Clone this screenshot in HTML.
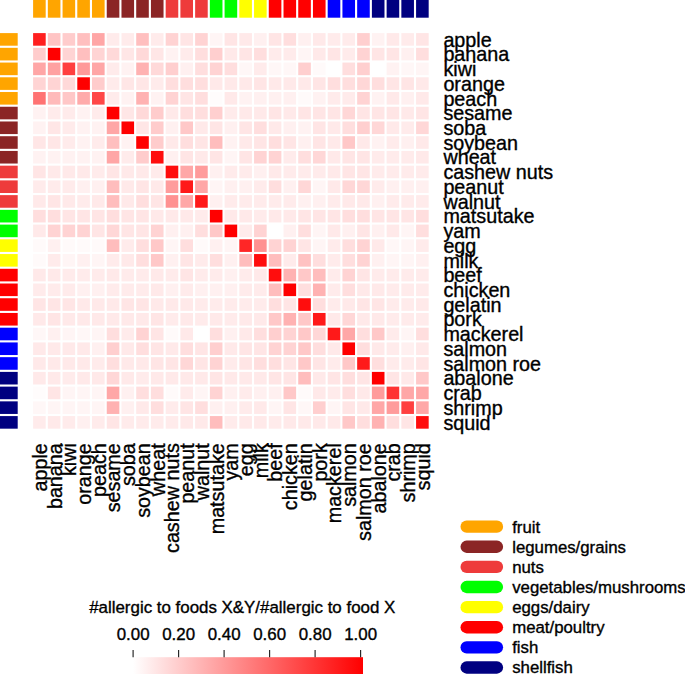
<!DOCTYPE html>
<html><head><meta charset="utf-8"><style>
html,body{margin:0;padding:0;background:#fff;}
#c{position:relative;width:685px;height:674px;overflow:hidden;background:#fff;}
#c svg{position:absolute;left:0;top:0;display:block}
.t text{stroke:#000;stroke-width:0.35px;}
</style></head><body><div id="c">
<svg width="685" height="674" viewBox="0 0 685 674">
<rect x="33.10" y="0" width="12.6" height="17.7" fill="#FFA500"/>
<rect x="0" y="33.10" width="17.7" height="12.6" fill="#FFA500"/>
<rect x="47.83" y="0" width="12.6" height="17.7" fill="#FFA500"/>
<rect x="0" y="47.83" width="17.7" height="12.6" fill="#FFA500"/>
<rect x="62.56" y="0" width="12.6" height="17.7" fill="#FFA500"/>
<rect x="0" y="62.56" width="17.7" height="12.6" fill="#FFA500"/>
<rect x="77.29" y="0" width="12.6" height="17.7" fill="#FFA500"/>
<rect x="0" y="77.29" width="17.7" height="12.6" fill="#FFA500"/>
<rect x="92.02" y="0" width="12.6" height="17.7" fill="#FFA500"/>
<rect x="0" y="92.02" width="17.7" height="12.6" fill="#FFA500"/>
<rect x="106.75" y="0" width="12.6" height="17.7" fill="#8B2525"/>
<rect x="0" y="106.75" width="17.7" height="12.6" fill="#8B2525"/>
<rect x="121.48" y="0" width="12.6" height="17.7" fill="#8B2525"/>
<rect x="0" y="121.48" width="17.7" height="12.6" fill="#8B2525"/>
<rect x="136.21" y="0" width="12.6" height="17.7" fill="#8B2525"/>
<rect x="0" y="136.21" width="17.7" height="12.6" fill="#8B2525"/>
<rect x="150.94" y="0" width="12.6" height="17.7" fill="#8B2525"/>
<rect x="0" y="150.94" width="17.7" height="12.6" fill="#8B2525"/>
<rect x="165.67" y="0" width="12.6" height="17.7" fill="#EE3B3B"/>
<rect x="0" y="165.67" width="17.7" height="12.6" fill="#EE3B3B"/>
<rect x="180.40" y="0" width="12.6" height="17.7" fill="#EE3B3B"/>
<rect x="0" y="180.40" width="17.7" height="12.6" fill="#EE3B3B"/>
<rect x="195.13" y="0" width="12.6" height="17.7" fill="#EE3B3B"/>
<rect x="0" y="195.13" width="17.7" height="12.6" fill="#EE3B3B"/>
<rect x="209.86" y="0" width="12.6" height="17.7" fill="#00FF00"/>
<rect x="0" y="209.86" width="17.7" height="12.6" fill="#00FF00"/>
<rect x="224.59" y="0" width="12.6" height="17.7" fill="#00FF00"/>
<rect x="0" y="224.59" width="17.7" height="12.6" fill="#00FF00"/>
<rect x="239.32" y="0" width="12.6" height="17.7" fill="#FFFF00"/>
<rect x="0" y="239.32" width="17.7" height="12.6" fill="#FFFF00"/>
<rect x="254.05" y="0" width="12.6" height="17.7" fill="#FFFF00"/>
<rect x="0" y="254.05" width="17.7" height="12.6" fill="#FFFF00"/>
<rect x="268.78" y="0" width="12.6" height="17.7" fill="#FF0000"/>
<rect x="0" y="268.78" width="17.7" height="12.6" fill="#FF0000"/>
<rect x="283.51" y="0" width="12.6" height="17.7" fill="#FF0000"/>
<rect x="0" y="283.51" width="17.7" height="12.6" fill="#FF0000"/>
<rect x="298.24" y="0" width="12.6" height="17.7" fill="#FF0000"/>
<rect x="0" y="298.24" width="17.7" height="12.6" fill="#FF0000"/>
<rect x="312.97" y="0" width="12.6" height="17.7" fill="#FF0000"/>
<rect x="0" y="312.97" width="17.7" height="12.6" fill="#FF0000"/>
<rect x="327.70" y="0" width="12.6" height="17.7" fill="#0000FF"/>
<rect x="0" y="327.70" width="17.7" height="12.6" fill="#0000FF"/>
<rect x="342.43" y="0" width="12.6" height="17.7" fill="#0000FF"/>
<rect x="0" y="342.43" width="17.7" height="12.6" fill="#0000FF"/>
<rect x="357.16" y="0" width="12.6" height="17.7" fill="#0000FF"/>
<rect x="0" y="357.16" width="17.7" height="12.6" fill="#0000FF"/>
<rect x="371.89" y="0" width="12.6" height="17.7" fill="#000080"/>
<rect x="0" y="371.89" width="17.7" height="12.6" fill="#000080"/>
<rect x="386.62" y="0" width="12.6" height="17.7" fill="#000080"/>
<rect x="0" y="386.62" width="17.7" height="12.6" fill="#000080"/>
<rect x="401.35" y="0" width="12.6" height="17.7" fill="#000080"/>
<rect x="0" y="401.35" width="17.7" height="12.6" fill="#000080"/>
<rect x="416.08" y="0" width="12.6" height="17.7" fill="#000080"/>
<rect x="0" y="416.08" width="17.7" height="12.6" fill="#000080"/>
<rect x="33.10" y="33.10" width="12.6" height="12.6" fill="#FF1F1F"/>
<rect x="47.83" y="33.10" width="12.6" height="12.6" fill="#FFC4C4"/>
<rect x="62.56" y="33.10" width="12.6" height="12.6" fill="#FFCCCC"/>
<rect x="77.29" y="33.10" width="12.6" height="12.6" fill="#FFBFBF"/>
<rect x="92.02" y="33.10" width="12.6" height="12.6" fill="#FFA6A6"/>
<rect x="106.75" y="33.10" width="12.6" height="12.6" fill="#FFEBEB"/>
<rect x="121.48" y="33.10" width="12.6" height="12.6" fill="#FFEBEB"/>
<rect x="136.21" y="33.10" width="12.6" height="12.6" fill="#FFBFBF"/>
<rect x="150.94" y="33.10" width="12.6" height="12.6" fill="#FFEBEB"/>
<rect x="165.67" y="33.10" width="12.6" height="12.6" fill="#FFD3D3"/>
<rect x="180.40" y="33.10" width="12.6" height="12.6" fill="#FFE5E5"/>
<rect x="195.13" y="33.10" width="12.6" height="12.6" fill="#FFD3D3"/>
<rect x="209.86" y="33.10" width="12.6" height="12.6" fill="#FFF5F5"/>
<rect x="224.59" y="33.10" width="12.6" height="12.6" fill="#FFE5E5"/>
<rect x="239.32" y="33.10" width="12.6" height="12.6" fill="#FFE9E9"/>
<rect x="254.05" y="33.10" width="12.6" height="12.6" fill="#FFF0F0"/>
<rect x="268.78" y="33.10" width="12.6" height="12.6" fill="#FFE5E5"/>
<rect x="283.51" y="33.10" width="12.6" height="12.6" fill="#FFDEDE"/>
<rect x="298.24" y="33.10" width="12.6" height="12.6" fill="#FFF0F0"/>
<rect x="312.97" y="33.10" width="12.6" height="12.6" fill="#FFE9E9"/>
<rect x="327.70" y="33.10" width="12.6" height="12.6" fill="#FFEBEB"/>
<rect x="342.43" y="33.10" width="12.6" height="12.6" fill="#FFEBEB"/>
<rect x="357.16" y="33.10" width="12.6" height="12.6" fill="#FFCFCF"/>
<rect x="371.89" y="33.10" width="12.6" height="12.6" fill="#FFF2F2"/>
<rect x="386.62" y="33.10" width="12.6" height="12.6" fill="#FFE9E9"/>
<rect x="401.35" y="33.10" width="12.6" height="12.6" fill="#FFEBEB"/>
<rect x="416.08" y="33.10" width="12.6" height="12.6" fill="#FFE5E5"/>
<rect x="33.10" y="47.83" width="12.6" height="12.6" fill="#FFCCCC"/>
<rect x="47.83" y="47.83" width="12.6" height="12.6" fill="#FF0000"/>
<rect x="62.56" y="47.83" width="12.6" height="12.6" fill="#FFD4D4"/>
<rect x="77.29" y="47.83" width="12.6" height="12.6" fill="#FFBFBF"/>
<rect x="92.02" y="47.83" width="12.6" height="12.6" fill="#FFD4D4"/>
<rect x="106.75" y="47.83" width="12.6" height="12.6" fill="#FFD9D9"/>
<rect x="121.48" y="47.83" width="12.6" height="12.6" fill="#FFE6E6"/>
<rect x="136.21" y="47.83" width="12.6" height="12.6" fill="#FFD9D9"/>
<rect x="150.94" y="47.83" width="12.6" height="12.6" fill="#FFE6E6"/>
<rect x="165.67" y="47.83" width="12.6" height="12.6" fill="#FFF2F2"/>
<rect x="180.40" y="47.83" width="12.6" height="12.6" fill="#FFEBEB"/>
<rect x="195.13" y="47.83" width="12.6" height="12.6" fill="#FFDEDE"/>
<rect x="209.86" y="47.83" width="12.6" height="12.6" fill="#FFCFCF"/>
<rect x="224.59" y="47.83" width="12.6" height="12.6" fill="#FFE9E9"/>
<rect x="239.32" y="47.83" width="12.6" height="12.6" fill="#FFE5E5"/>
<rect x="254.05" y="47.83" width="12.6" height="12.6" fill="#FFDEDE"/>
<rect x="268.78" y="47.83" width="12.6" height="12.6" fill="#FFEBEB"/>
<rect x="283.51" y="47.83" width="12.6" height="12.6" fill="#FFEBEB"/>
<rect x="298.24" y="47.83" width="12.6" height="12.6" fill="#FFF5F5"/>
<rect x="312.97" y="47.83" width="12.6" height="12.6" fill="#FFE9E9"/>
<rect x="327.70" y="47.83" width="12.6" height="12.6" fill="#FFE5E5"/>
<rect x="342.43" y="47.83" width="12.6" height="12.6" fill="#FFEBEB"/>
<rect x="357.16" y="47.83" width="12.6" height="12.6" fill="#FFD3D3"/>
<rect x="371.89" y="47.83" width="12.6" height="12.6" fill="#FFE5E5"/>
<rect x="386.62" y="47.83" width="12.6" height="12.6" fill="#FFE5E5"/>
<rect x="401.35" y="47.83" width="12.6" height="12.6" fill="#FFF0F0"/>
<rect x="416.08" y="47.83" width="12.6" height="12.6" fill="#FFDEDE"/>
<rect x="33.10" y="62.56" width="12.6" height="12.6" fill="#FFA6A6"/>
<rect x="47.83" y="62.56" width="12.6" height="12.6" fill="#FFA1A1"/>
<rect x="62.56" y="62.56" width="12.6" height="12.6" fill="#FF4040"/>
<rect x="77.29" y="62.56" width="12.6" height="12.6" fill="#FF9999"/>
<rect x="92.02" y="62.56" width="12.6" height="12.6" fill="#FFA6A6"/>
<rect x="106.75" y="62.56" width="12.6" height="12.6" fill="#FFEBEB"/>
<rect x="121.48" y="62.56" width="12.6" height="12.6" fill="#FFF2F2"/>
<rect x="136.21" y="62.56" width="12.6" height="12.6" fill="#FFB2B2"/>
<rect x="150.94" y="62.56" width="12.6" height="12.6" fill="#FFD9D9"/>
<rect x="165.67" y="62.56" width="12.6" height="12.6" fill="#FFCFCF"/>
<rect x="180.40" y="62.56" width="12.6" height="12.6" fill="#FFF0F0"/>
<rect x="195.13" y="62.56" width="12.6" height="12.6" fill="#FFDEDE"/>
<rect x="209.86" y="62.56" width="12.6" height="12.6" fill="#FFD3D3"/>
<rect x="224.59" y="62.56" width="12.6" height="12.6" fill="#FFDEDE"/>
<rect x="239.32" y="62.56" width="12.6" height="12.6" fill="#FFF7F7"/>
<rect x="254.05" y="62.56" width="12.6" height="12.6" fill="#FFEBEB"/>
<rect x="268.78" y="62.56" width="12.6" height="12.6" fill="#FFF7F7"/>
<rect x="283.51" y="62.56" width="12.6" height="12.6" fill="#FFF7F7"/>
<rect x="298.24" y="62.56" width="12.6" height="12.6" fill="#FFCFCF"/>
<rect x="312.97" y="62.56" width="12.6" height="12.6" fill="#FFFAFA"/>
<rect x="327.70" y="62.56" width="12.6" height="12.6" fill="#FFFFFF"/>
<rect x="342.43" y="62.56" width="12.6" height="12.6" fill="#FFDEDE"/>
<rect x="357.16" y="62.56" width="12.6" height="12.6" fill="#FFCFCF"/>
<rect x="371.89" y="62.56" width="12.6" height="12.6" fill="#FFFFFF"/>
<rect x="386.62" y="62.56" width="12.6" height="12.6" fill="#FFF2F2"/>
<rect x="401.35" y="62.56" width="12.6" height="12.6" fill="#FFF7F7"/>
<rect x="416.08" y="62.56" width="12.6" height="12.6" fill="#FFF5F5"/>
<rect x="33.10" y="77.29" width="12.6" height="12.6" fill="#FFD4D4"/>
<rect x="47.83" y="77.29" width="12.6" height="12.6" fill="#FFD4D4"/>
<rect x="62.56" y="77.29" width="12.6" height="12.6" fill="#FFD9D9"/>
<rect x="77.29" y="77.29" width="12.6" height="12.6" fill="#FF0000"/>
<rect x="92.02" y="77.29" width="12.6" height="12.6" fill="#FFCCCC"/>
<rect x="106.75" y="77.29" width="12.6" height="12.6" fill="#FFEBEB"/>
<rect x="121.48" y="77.29" width="12.6" height="12.6" fill="#FFE6E6"/>
<rect x="136.21" y="77.29" width="12.6" height="12.6" fill="#FFE6E6"/>
<rect x="150.94" y="77.29" width="12.6" height="12.6" fill="#FFEBEB"/>
<rect x="165.67" y="77.29" width="12.6" height="12.6" fill="#FFDEDE"/>
<rect x="180.40" y="77.29" width="12.6" height="12.6" fill="#FFDEDE"/>
<rect x="195.13" y="77.29" width="12.6" height="12.6" fill="#FFDEDE"/>
<rect x="209.86" y="77.29" width="12.6" height="12.6" fill="#FFE9E9"/>
<rect x="224.59" y="77.29" width="12.6" height="12.6" fill="#FFE9E9"/>
<rect x="239.32" y="77.29" width="12.6" height="12.6" fill="#FFE9E9"/>
<rect x="254.05" y="77.29" width="12.6" height="12.6" fill="#FFE5E5"/>
<rect x="268.78" y="77.29" width="12.6" height="12.6" fill="#FFE9E9"/>
<rect x="283.51" y="77.29" width="12.6" height="12.6" fill="#FFE9E9"/>
<rect x="298.24" y="77.29" width="12.6" height="12.6" fill="#FFE9E9"/>
<rect x="312.97" y="77.29" width="12.6" height="12.6" fill="#FFE5E5"/>
<rect x="327.70" y="77.29" width="12.6" height="12.6" fill="#FFDEDE"/>
<rect x="342.43" y="77.29" width="12.6" height="12.6" fill="#FFDEDE"/>
<rect x="357.16" y="77.29" width="12.6" height="12.6" fill="#FFD7D7"/>
<rect x="371.89" y="77.29" width="12.6" height="12.6" fill="#FFDEDE"/>
<rect x="386.62" y="77.29" width="12.6" height="12.6" fill="#FFE5E5"/>
<rect x="401.35" y="77.29" width="12.6" height="12.6" fill="#FFE5E5"/>
<rect x="416.08" y="77.29" width="12.6" height="12.6" fill="#FFE9E9"/>
<rect x="33.10" y="92.02" width="12.6" height="12.6" fill="#FF7373"/>
<rect x="47.83" y="92.02" width="12.6" height="12.6" fill="#FFBABA"/>
<rect x="62.56" y="92.02" width="12.6" height="12.6" fill="#FFC7C7"/>
<rect x="77.29" y="92.02" width="12.6" height="12.6" fill="#FFABAB"/>
<rect x="92.02" y="92.02" width="12.6" height="12.6" fill="#FF4747"/>
<rect x="106.75" y="92.02" width="12.6" height="12.6" fill="#FFEBEB"/>
<rect x="121.48" y="92.02" width="12.6" height="12.6" fill="#FFF2F2"/>
<rect x="136.21" y="92.02" width="12.6" height="12.6" fill="#FFB2B2"/>
<rect x="150.94" y="92.02" width="12.6" height="12.6" fill="#FFF2F2"/>
<rect x="165.67" y="92.02" width="12.6" height="12.6" fill="#FFD3D3"/>
<rect x="180.40" y="92.02" width="12.6" height="12.6" fill="#FFE5E5"/>
<rect x="195.13" y="92.02" width="12.6" height="12.6" fill="#FFDEDE"/>
<rect x="209.86" y="92.02" width="12.6" height="12.6" fill="#FFFCFC"/>
<rect x="224.59" y="92.02" width="12.6" height="12.6" fill="#FFE9E9"/>
<rect x="239.32" y="92.02" width="12.6" height="12.6" fill="#FFF2F2"/>
<rect x="254.05" y="92.02" width="12.6" height="12.6" fill="#FFF0F0"/>
<rect x="268.78" y="92.02" width="12.6" height="12.6" fill="#FFF0F0"/>
<rect x="283.51" y="92.02" width="12.6" height="12.6" fill="#FFF0F0"/>
<rect x="298.24" y="92.02" width="12.6" height="12.6" fill="#FFFAFA"/>
<rect x="312.97" y="92.02" width="12.6" height="12.6" fill="#FFF2F2"/>
<rect x="327.70" y="92.02" width="12.6" height="12.6" fill="#FFEBEB"/>
<rect x="342.43" y="92.02" width="12.6" height="12.6" fill="#FFEBEB"/>
<rect x="357.16" y="92.02" width="12.6" height="12.6" fill="#FFD3D3"/>
<rect x="371.89" y="92.02" width="12.6" height="12.6" fill="#FFF2F2"/>
<rect x="386.62" y="92.02" width="12.6" height="12.6" fill="#FFE9E9"/>
<rect x="401.35" y="92.02" width="12.6" height="12.6" fill="#FFF0F0"/>
<rect x="416.08" y="92.02" width="12.6" height="12.6" fill="#FFE9E9"/>
<rect x="33.10" y="106.75" width="12.6" height="12.6" fill="#FFF2F2"/>
<rect x="47.83" y="106.75" width="12.6" height="12.6" fill="#FFEBEB"/>
<rect x="62.56" y="106.75" width="12.6" height="12.6" fill="#FFEBEB"/>
<rect x="77.29" y="106.75" width="12.6" height="12.6" fill="#FFF2F2"/>
<rect x="92.02" y="106.75" width="12.6" height="12.6" fill="#FFEBEB"/>
<rect x="106.75" y="106.75" width="12.6" height="12.6" fill="#FF0000"/>
<rect x="121.48" y="106.75" width="12.6" height="12.6" fill="#FFE6E6"/>
<rect x="136.21" y="106.75" width="12.6" height="12.6" fill="#FFD9D9"/>
<rect x="150.94" y="106.75" width="12.6" height="12.6" fill="#FFCCCC"/>
<rect x="165.67" y="106.75" width="12.6" height="12.6" fill="#FFE9E9"/>
<rect x="180.40" y="106.75" width="12.6" height="12.6" fill="#FFDEDE"/>
<rect x="195.13" y="106.75" width="12.6" height="12.6" fill="#FFDEDE"/>
<rect x="209.86" y="106.75" width="12.6" height="12.6" fill="#FFCFCF"/>
<rect x="224.59" y="106.75" width="12.6" height="12.6" fill="#FFEBEB"/>
<rect x="239.32" y="106.75" width="12.6" height="12.6" fill="#FFE9E9"/>
<rect x="254.05" y="106.75" width="12.6" height="12.6" fill="#FFE9E9"/>
<rect x="268.78" y="106.75" width="12.6" height="12.6" fill="#FFE5E5"/>
<rect x="283.51" y="106.75" width="12.6" height="12.6" fill="#FFE9E9"/>
<rect x="298.24" y="106.75" width="12.6" height="12.6" fill="#FFE5E5"/>
<rect x="312.97" y="106.75" width="12.6" height="12.6" fill="#FFE5E5"/>
<rect x="327.70" y="106.75" width="12.6" height="12.6" fill="#FFE5E5"/>
<rect x="342.43" y="106.75" width="12.6" height="12.6" fill="#FFD7D7"/>
<rect x="357.16" y="106.75" width="12.6" height="12.6" fill="#FFE5E5"/>
<rect x="371.89" y="106.75" width="12.6" height="12.6" fill="#FFE5E5"/>
<rect x="386.62" y="106.75" width="12.6" height="12.6" fill="#FFE5E5"/>
<rect x="401.35" y="106.75" width="12.6" height="12.6" fill="#FFE9E9"/>
<rect x="416.08" y="106.75" width="12.6" height="12.6" fill="#FFE5E5"/>
<rect x="33.10" y="121.48" width="12.6" height="12.6" fill="#FFF2F2"/>
<rect x="47.83" y="121.48" width="12.6" height="12.6" fill="#FFE6E6"/>
<rect x="62.56" y="121.48" width="12.6" height="12.6" fill="#FFEBEB"/>
<rect x="77.29" y="121.48" width="12.6" height="12.6" fill="#FFF2F2"/>
<rect x="92.02" y="121.48" width="12.6" height="12.6" fill="#FFF2F2"/>
<rect x="106.75" y="121.48" width="12.6" height="12.6" fill="#FFA6A6"/>
<rect x="121.48" y="121.48" width="12.6" height="12.6" fill="#FF0000"/>
<rect x="136.21" y="121.48" width="12.6" height="12.6" fill="#FFE6E6"/>
<rect x="150.94" y="121.48" width="12.6" height="12.6" fill="#FFCCCC"/>
<rect x="165.67" y="121.48" width="12.6" height="12.6" fill="#FFF0F0"/>
<rect x="180.40" y="121.48" width="12.6" height="12.6" fill="#FFC8C8"/>
<rect x="195.13" y="121.48" width="12.6" height="12.6" fill="#FFE9E9"/>
<rect x="209.86" y="121.48" width="12.6" height="12.6" fill="#FFE5E5"/>
<rect x="224.59" y="121.48" width="12.6" height="12.6" fill="#FFF0F0"/>
<rect x="239.32" y="121.48" width="12.6" height="12.6" fill="#FFE5E5"/>
<rect x="254.05" y="121.48" width="12.6" height="12.6" fill="#FFDEDE"/>
<rect x="268.78" y="121.48" width="12.6" height="12.6" fill="#FFE9E9"/>
<rect x="283.51" y="121.48" width="12.6" height="12.6" fill="#FFF0F0"/>
<rect x="298.24" y="121.48" width="12.6" height="12.6" fill="#FFF2F2"/>
<rect x="312.97" y="121.48" width="12.6" height="12.6" fill="#FFE5E5"/>
<rect x="327.70" y="121.48" width="12.6" height="12.6" fill="#FFE9E9"/>
<rect x="342.43" y="121.48" width="12.6" height="12.6" fill="#FFDEDE"/>
<rect x="357.16" y="121.48" width="12.6" height="12.6" fill="#FFCFCF"/>
<rect x="371.89" y="121.48" width="12.6" height="12.6" fill="#FFD7D7"/>
<rect x="386.62" y="121.48" width="12.6" height="12.6" fill="#FFE9E9"/>
<rect x="401.35" y="121.48" width="12.6" height="12.6" fill="#FFEBEB"/>
<rect x="416.08" y="121.48" width="12.6" height="12.6" fill="#FFD7D7"/>
<rect x="33.10" y="136.21" width="12.6" height="12.6" fill="#FFE6E6"/>
<rect x="47.83" y="136.21" width="12.6" height="12.6" fill="#FFE6E6"/>
<rect x="62.56" y="136.21" width="12.6" height="12.6" fill="#FFEBEB"/>
<rect x="77.29" y="136.21" width="12.6" height="12.6" fill="#FFF2F2"/>
<rect x="92.02" y="136.21" width="12.6" height="12.6" fill="#FFEBEB"/>
<rect x="106.75" y="136.21" width="12.6" height="12.6" fill="#FFBFBF"/>
<rect x="121.48" y="136.21" width="12.6" height="12.6" fill="#FFF2F2"/>
<rect x="136.21" y="136.21" width="12.6" height="12.6" fill="#FF0000"/>
<rect x="150.94" y="136.21" width="12.6" height="12.6" fill="#FFCCCC"/>
<rect x="165.67" y="136.21" width="12.6" height="12.6" fill="#FFE9E9"/>
<rect x="180.40" y="136.21" width="12.6" height="12.6" fill="#FFDEDE"/>
<rect x="195.13" y="136.21" width="12.6" height="12.6" fill="#FFE5E5"/>
<rect x="209.86" y="136.21" width="12.6" height="12.6" fill="#FFBDBD"/>
<rect x="224.59" y="136.21" width="12.6" height="12.6" fill="#FFF2F2"/>
<rect x="239.32" y="136.21" width="12.6" height="12.6" fill="#FFE9E9"/>
<rect x="254.05" y="136.21" width="12.6" height="12.6" fill="#FFE5E5"/>
<rect x="268.78" y="136.21" width="12.6" height="12.6" fill="#FFDEDE"/>
<rect x="283.51" y="136.21" width="12.6" height="12.6" fill="#FFE5E5"/>
<rect x="298.24" y="136.21" width="12.6" height="12.6" fill="#FFF0F0"/>
<rect x="312.97" y="136.21" width="12.6" height="12.6" fill="#FFE5E5"/>
<rect x="327.70" y="136.21" width="12.6" height="12.6" fill="#FFE9E9"/>
<rect x="342.43" y="136.21" width="12.6" height="12.6" fill="#FFC8C8"/>
<rect x="357.16" y="136.21" width="12.6" height="12.6" fill="#FFE9E9"/>
<rect x="371.89" y="136.21" width="12.6" height="12.6" fill="#FFF2F2"/>
<rect x="386.62" y="136.21" width="12.6" height="12.6" fill="#FFEBEB"/>
<rect x="401.35" y="136.21" width="12.6" height="12.6" fill="#FFF0F0"/>
<rect x="416.08" y="136.21" width="12.6" height="12.6" fill="#FFE9E9"/>
<rect x="33.10" y="150.94" width="12.6" height="12.6" fill="#FFF2F2"/>
<rect x="47.83" y="150.94" width="12.6" height="12.6" fill="#FFF2F2"/>
<rect x="62.56" y="150.94" width="12.6" height="12.6" fill="#FFF2F2"/>
<rect x="77.29" y="150.94" width="12.6" height="12.6" fill="#FFF2F2"/>
<rect x="92.02" y="150.94" width="12.6" height="12.6" fill="#FFF2F2"/>
<rect x="106.75" y="150.94" width="12.6" height="12.6" fill="#FFA6A6"/>
<rect x="121.48" y="150.94" width="12.6" height="12.6" fill="#FFEBEB"/>
<rect x="136.21" y="150.94" width="12.6" height="12.6" fill="#FFCCCC"/>
<rect x="150.94" y="150.94" width="12.6" height="12.6" fill="#FF0D0D"/>
<rect x="165.67" y="150.94" width="12.6" height="12.6" fill="#FFF0F0"/>
<rect x="180.40" y="150.94" width="12.6" height="12.6" fill="#FFE5E5"/>
<rect x="195.13" y="150.94" width="12.6" height="12.6" fill="#FFE9E9"/>
<rect x="209.86" y="150.94" width="12.6" height="12.6" fill="#FFE5E5"/>
<rect x="224.59" y="150.94" width="12.6" height="12.6" fill="#FFF5F5"/>
<rect x="239.32" y="150.94" width="12.6" height="12.6" fill="#FFE5E5"/>
<rect x="254.05" y="150.94" width="12.6" height="12.6" fill="#FFD3D3"/>
<rect x="268.78" y="150.94" width="12.6" height="12.6" fill="#FFD3D3"/>
<rect x="283.51" y="150.94" width="12.6" height="12.6" fill="#FFEBEB"/>
<rect x="298.24" y="150.94" width="12.6" height="12.6" fill="#FFDEDE"/>
<rect x="312.97" y="150.94" width="12.6" height="12.6" fill="#FFD7D7"/>
<rect x="327.70" y="150.94" width="12.6" height="12.6" fill="#FFE9E9"/>
<rect x="342.43" y="150.94" width="12.6" height="12.6" fill="#FFE5E5"/>
<rect x="357.16" y="150.94" width="12.6" height="12.6" fill="#FFE5E5"/>
<rect x="371.89" y="150.94" width="12.6" height="12.6" fill="#FFEBEB"/>
<rect x="386.62" y="150.94" width="12.6" height="12.6" fill="#FFEBEB"/>
<rect x="401.35" y="150.94" width="12.6" height="12.6" fill="#FFEBEB"/>
<rect x="416.08" y="150.94" width="12.6" height="12.6" fill="#FFE9E9"/>
<rect x="33.10" y="165.67" width="12.6" height="12.6" fill="#FFE5E5"/>
<rect x="47.83" y="165.67" width="12.6" height="12.6" fill="#FFE9E9"/>
<rect x="62.56" y="165.67" width="12.6" height="12.6" fill="#FFE9E9"/>
<rect x="77.29" y="165.67" width="12.6" height="12.6" fill="#FFE9E9"/>
<rect x="92.02" y="165.67" width="12.6" height="12.6" fill="#FFEBEB"/>
<rect x="106.75" y="165.67" width="12.6" height="12.6" fill="#FFE5E5"/>
<rect x="121.48" y="165.67" width="12.6" height="12.6" fill="#FFE9E9"/>
<rect x="136.21" y="165.67" width="12.6" height="12.6" fill="#FFE9E9"/>
<rect x="150.94" y="165.67" width="12.6" height="12.6" fill="#FFEBEB"/>
<rect x="165.67" y="165.67" width="12.6" height="12.6" fill="#FF0D0D"/>
<rect x="180.40" y="165.67" width="12.6" height="12.6" fill="#FFA7A7"/>
<rect x="195.13" y="165.67" width="12.6" height="12.6" fill="#FF9C9C"/>
<rect x="209.86" y="165.67" width="12.6" height="12.6" fill="#FFF0F0"/>
<rect x="224.59" y="165.67" width="12.6" height="12.6" fill="#FFEBEB"/>
<rect x="239.32" y="165.67" width="12.6" height="12.6" fill="#FFEBEB"/>
<rect x="254.05" y="165.67" width="12.6" height="12.6" fill="#FFF0F0"/>
<rect x="268.78" y="165.67" width="12.6" height="12.6" fill="#FFE9E9"/>
<rect x="283.51" y="165.67" width="12.6" height="12.6" fill="#FFEBEB"/>
<rect x="298.24" y="165.67" width="12.6" height="12.6" fill="#FFEBEB"/>
<rect x="312.97" y="165.67" width="12.6" height="12.6" fill="#FFEBEB"/>
<rect x="327.70" y="165.67" width="12.6" height="12.6" fill="#FFE9E9"/>
<rect x="342.43" y="165.67" width="12.6" height="12.6" fill="#FFE5E5"/>
<rect x="357.16" y="165.67" width="12.6" height="12.6" fill="#FFE5E5"/>
<rect x="371.89" y="165.67" width="12.6" height="12.6" fill="#FFEBEB"/>
<rect x="386.62" y="165.67" width="12.6" height="12.6" fill="#FFEBEB"/>
<rect x="401.35" y="165.67" width="12.6" height="12.6" fill="#FFEBEB"/>
<rect x="416.08" y="165.67" width="12.6" height="12.6" fill="#FFEBEB"/>
<rect x="33.10" y="180.40" width="12.6" height="12.6" fill="#FFEBEB"/>
<rect x="47.83" y="180.40" width="12.6" height="12.6" fill="#FFEBEB"/>
<rect x="62.56" y="180.40" width="12.6" height="12.6" fill="#FFEBEB"/>
<rect x="77.29" y="180.40" width="12.6" height="12.6" fill="#FFF0F0"/>
<rect x="92.02" y="180.40" width="12.6" height="12.6" fill="#FFF0F0"/>
<rect x="106.75" y="180.40" width="12.6" height="12.6" fill="#FFBDBD"/>
<rect x="121.48" y="180.40" width="12.6" height="12.6" fill="#FFE9E9"/>
<rect x="136.21" y="180.40" width="12.6" height="12.6" fill="#FFE5E5"/>
<rect x="150.94" y="180.40" width="12.6" height="12.6" fill="#FFE9E9"/>
<rect x="165.67" y="180.40" width="12.6" height="12.6" fill="#FF9C9C"/>
<rect x="180.40" y="180.40" width="12.6" height="12.6" fill="#FF1919"/>
<rect x="195.13" y="180.40" width="12.6" height="12.6" fill="#FFA7A7"/>
<rect x="209.86" y="180.40" width="12.6" height="12.6" fill="#FFF5F5"/>
<rect x="224.59" y="180.40" width="12.6" height="12.6" fill="#FFF0F0"/>
<rect x="239.32" y="180.40" width="12.6" height="12.6" fill="#FFF0F0"/>
<rect x="254.05" y="180.40" width="12.6" height="12.6" fill="#FFEBEB"/>
<rect x="268.78" y="180.40" width="12.6" height="12.6" fill="#FFDEDE"/>
<rect x="283.51" y="180.40" width="12.6" height="12.6" fill="#FFF0F0"/>
<rect x="298.24" y="180.40" width="12.6" height="12.6" fill="#FFD7D7"/>
<rect x="312.97" y="180.40" width="12.6" height="12.6" fill="#FFF5F5"/>
<rect x="327.70" y="180.40" width="12.6" height="12.6" fill="#FFE9E9"/>
<rect x="342.43" y="180.40" width="12.6" height="12.6" fill="#FFD7D7"/>
<rect x="357.16" y="180.40" width="12.6" height="12.6" fill="#FFD7D7"/>
<rect x="371.89" y="180.40" width="12.6" height="12.6" fill="#FFEBEB"/>
<rect x="386.62" y="180.40" width="12.6" height="12.6" fill="#FFF0F0"/>
<rect x="401.35" y="180.40" width="12.6" height="12.6" fill="#FFF0F0"/>
<rect x="416.08" y="180.40" width="12.6" height="12.6" fill="#FFF0F0"/>
<rect x="33.10" y="195.13" width="12.6" height="12.6" fill="#FFE9E9"/>
<rect x="47.83" y="195.13" width="12.6" height="12.6" fill="#FFE5E5"/>
<rect x="62.56" y="195.13" width="12.6" height="12.6" fill="#FFE9E9"/>
<rect x="77.29" y="195.13" width="12.6" height="12.6" fill="#FFEBEB"/>
<rect x="92.02" y="195.13" width="12.6" height="12.6" fill="#FFE9E9"/>
<rect x="106.75" y="195.13" width="12.6" height="12.6" fill="#FFBDBD"/>
<rect x="121.48" y="195.13" width="12.6" height="12.6" fill="#FFE9E9"/>
<rect x="136.21" y="195.13" width="12.6" height="12.6" fill="#FFDEDE"/>
<rect x="150.94" y="195.13" width="12.6" height="12.6" fill="#FFE5E5"/>
<rect x="165.67" y="195.13" width="12.6" height="12.6" fill="#FF9191"/>
<rect x="180.40" y="195.13" width="12.6" height="12.6" fill="#FFA7A7"/>
<rect x="195.13" y="195.13" width="12.6" height="12.6" fill="#FF1919"/>
<rect x="209.86" y="195.13" width="12.6" height="12.6" fill="#FFF0F0"/>
<rect x="224.59" y="195.13" width="12.6" height="12.6" fill="#FFEBEB"/>
<rect x="239.32" y="195.13" width="12.6" height="12.6" fill="#FFEBEB"/>
<rect x="254.05" y="195.13" width="12.6" height="12.6" fill="#FFEBEB"/>
<rect x="268.78" y="195.13" width="12.6" height="12.6" fill="#FFEBEB"/>
<rect x="283.51" y="195.13" width="12.6" height="12.6" fill="#FFEBEB"/>
<rect x="298.24" y="195.13" width="12.6" height="12.6" fill="#FFF0F0"/>
<rect x="312.97" y="195.13" width="12.6" height="12.6" fill="#FFF0F0"/>
<rect x="327.70" y="195.13" width="12.6" height="12.6" fill="#FFEBEB"/>
<rect x="342.43" y="195.13" width="12.6" height="12.6" fill="#FFE9E9"/>
<rect x="357.16" y="195.13" width="12.6" height="12.6" fill="#FFE9E9"/>
<rect x="371.89" y="195.13" width="12.6" height="12.6" fill="#FFF0F0"/>
<rect x="386.62" y="195.13" width="12.6" height="12.6" fill="#FFEBEB"/>
<rect x="401.35" y="195.13" width="12.6" height="12.6" fill="#FFEBEB"/>
<rect x="416.08" y="195.13" width="12.6" height="12.6" fill="#FFEBEB"/>
<rect x="33.10" y="209.86" width="12.6" height="12.6" fill="#FFDEDE"/>
<rect x="47.83" y="209.86" width="12.6" height="12.6" fill="#FFDEDE"/>
<rect x="62.56" y="209.86" width="12.6" height="12.6" fill="#FFE5E5"/>
<rect x="77.29" y="209.86" width="12.6" height="12.6" fill="#FFE5E5"/>
<rect x="92.02" y="209.86" width="12.6" height="12.6" fill="#FFE5E5"/>
<rect x="106.75" y="209.86" width="12.6" height="12.6" fill="#FFDEDE"/>
<rect x="121.48" y="209.86" width="12.6" height="12.6" fill="#FFE5E5"/>
<rect x="136.21" y="209.86" width="12.6" height="12.6" fill="#FFE5E5"/>
<rect x="150.94" y="209.86" width="12.6" height="12.6" fill="#FFE9E9"/>
<rect x="165.67" y="209.86" width="12.6" height="12.6" fill="#FFE9E9"/>
<rect x="180.40" y="209.86" width="12.6" height="12.6" fill="#FFE9E9"/>
<rect x="195.13" y="209.86" width="12.6" height="12.6" fill="#FFEBEB"/>
<rect x="209.86" y="209.86" width="12.6" height="12.6" fill="#FF0000"/>
<rect x="224.59" y="209.86" width="12.6" height="12.6" fill="#FFE9E9"/>
<rect x="239.32" y="209.86" width="12.6" height="12.6" fill="#FFE9E9"/>
<rect x="254.05" y="209.86" width="12.6" height="12.6" fill="#FFEBEB"/>
<rect x="268.78" y="209.86" width="12.6" height="12.6" fill="#FFE9E9"/>
<rect x="283.51" y="209.86" width="12.6" height="12.6" fill="#FFE9E9"/>
<rect x="298.24" y="209.86" width="12.6" height="12.6" fill="#FFE5E5"/>
<rect x="312.97" y="209.86" width="12.6" height="12.6" fill="#FFE5E5"/>
<rect x="327.70" y="209.86" width="12.6" height="12.6" fill="#FFE5E5"/>
<rect x="342.43" y="209.86" width="12.6" height="12.6" fill="#FFDEDE"/>
<rect x="357.16" y="209.86" width="12.6" height="12.6" fill="#FFDEDE"/>
<rect x="371.89" y="209.86" width="12.6" height="12.6" fill="#FFE5E5"/>
<rect x="386.62" y="209.86" width="12.6" height="12.6" fill="#FFE5E5"/>
<rect x="401.35" y="209.86" width="12.6" height="12.6" fill="#FFE5E5"/>
<rect x="416.08" y="209.86" width="12.6" height="12.6" fill="#FFDEDE"/>
<rect x="33.10" y="224.59" width="12.6" height="12.6" fill="#FFE9E9"/>
<rect x="47.83" y="224.59" width="12.6" height="12.6" fill="#FFD3D3"/>
<rect x="62.56" y="224.59" width="12.6" height="12.6" fill="#FFD3D3"/>
<rect x="77.29" y="224.59" width="12.6" height="12.6" fill="#FFD3D3"/>
<rect x="92.02" y="224.59" width="12.6" height="12.6" fill="#FFE5E5"/>
<rect x="106.75" y="224.59" width="12.6" height="12.6" fill="#FFD7D7"/>
<rect x="121.48" y="224.59" width="12.6" height="12.6" fill="#FFE5E5"/>
<rect x="136.21" y="224.59" width="12.6" height="12.6" fill="#FFE5E5"/>
<rect x="150.94" y="224.59" width="12.6" height="12.6" fill="#FFD3D3"/>
<rect x="165.67" y="224.59" width="12.6" height="12.6" fill="#FFF0F0"/>
<rect x="180.40" y="224.59" width="12.6" height="12.6" fill="#FFF0F0"/>
<rect x="195.13" y="224.59" width="12.6" height="12.6" fill="#FFDEDE"/>
<rect x="209.86" y="224.59" width="12.6" height="12.6" fill="#FFC8C8"/>
<rect x="224.59" y="224.59" width="12.6" height="12.6" fill="#FF0000"/>
<rect x="239.32" y="224.59" width="12.6" height="12.6" fill="#FFEBEB"/>
<rect x="254.05" y="224.59" width="12.6" height="12.6" fill="#FFD3D3"/>
<rect x="268.78" y="224.59" width="12.6" height="12.6" fill="#FFFFFF"/>
<rect x="283.51" y="224.59" width="12.6" height="12.6" fill="#FFF0F0"/>
<rect x="298.24" y="224.59" width="12.6" height="12.6" fill="#FFDEDE"/>
<rect x="312.97" y="224.59" width="12.6" height="12.6" fill="#FFF5F5"/>
<rect x="327.70" y="224.59" width="12.6" height="12.6" fill="#FFE9E9"/>
<rect x="342.43" y="224.59" width="12.6" height="12.6" fill="#FFF0F0"/>
<rect x="357.16" y="224.59" width="12.6" height="12.6" fill="#FFE5E5"/>
<rect x="371.89" y="224.59" width="12.6" height="12.6" fill="#FFF0F0"/>
<rect x="386.62" y="224.59" width="12.6" height="12.6" fill="#FFE9E9"/>
<rect x="401.35" y="224.59" width="12.6" height="12.6" fill="#FFF5F5"/>
<rect x="416.08" y="224.59" width="12.6" height="12.6" fill="#FFDEDE"/>
<rect x="33.10" y="239.32" width="12.6" height="12.6" fill="#FFFAFA"/>
<rect x="47.83" y="239.32" width="12.6" height="12.6" fill="#FFF0F0"/>
<rect x="62.56" y="239.32" width="12.6" height="12.6" fill="#FFFAFA"/>
<rect x="77.29" y="239.32" width="12.6" height="12.6" fill="#FFFAFA"/>
<rect x="92.02" y="239.32" width="12.6" height="12.6" fill="#FFFAFA"/>
<rect x="106.75" y="239.32" width="12.6" height="12.6" fill="#FFBDBD"/>
<rect x="121.48" y="239.32" width="12.6" height="12.6" fill="#FFEBEB"/>
<rect x="136.21" y="239.32" width="12.6" height="12.6" fill="#FFDEDE"/>
<rect x="150.94" y="239.32" width="12.6" height="12.6" fill="#FFC8C8"/>
<rect x="165.67" y="239.32" width="12.6" height="12.6" fill="#FFF5F5"/>
<rect x="180.40" y="239.32" width="12.6" height="12.6" fill="#FFDEDE"/>
<rect x="195.13" y="239.32" width="12.6" height="12.6" fill="#FFFAFA"/>
<rect x="209.86" y="239.32" width="12.6" height="12.6" fill="#FFF0F0"/>
<rect x="224.59" y="239.32" width="12.6" height="12.6" fill="#FFF5F5"/>
<rect x="239.32" y="239.32" width="12.6" height="12.6" fill="#FF2626"/>
<rect x="254.05" y="239.32" width="12.6" height="12.6" fill="#FF9191"/>
<rect x="268.78" y="239.32" width="12.6" height="12.6" fill="#FFD3D3"/>
<rect x="283.51" y="239.32" width="12.6" height="12.6" fill="#FFD3D3"/>
<rect x="298.24" y="239.32" width="12.6" height="12.6" fill="#FFE5E5"/>
<rect x="312.97" y="239.32" width="12.6" height="12.6" fill="#FFF5F5"/>
<rect x="327.70" y="239.32" width="12.6" height="12.6" fill="#FFEBEB"/>
<rect x="342.43" y="239.32" width="12.6" height="12.6" fill="#FFDEDE"/>
<rect x="357.16" y="239.32" width="12.6" height="12.6" fill="#FFD3D3"/>
<rect x="371.89" y="239.32" width="12.6" height="12.6" fill="#FFE9E9"/>
<rect x="386.62" y="239.32" width="12.6" height="12.6" fill="#FFF7F7"/>
<rect x="401.35" y="239.32" width="12.6" height="12.6" fill="#FFF5F5"/>
<rect x="416.08" y="239.32" width="12.6" height="12.6" fill="#FFEBEB"/>
<rect x="33.10" y="254.05" width="12.6" height="12.6" fill="#FFFAFA"/>
<rect x="47.83" y="254.05" width="12.6" height="12.6" fill="#FFEBEB"/>
<rect x="62.56" y="254.05" width="12.6" height="12.6" fill="#FFF5F5"/>
<rect x="77.29" y="254.05" width="12.6" height="12.6" fill="#FFF0F0"/>
<rect x="92.02" y="254.05" width="12.6" height="12.6" fill="#FFF5F5"/>
<rect x="106.75" y="254.05" width="12.6" height="12.6" fill="#FFEBEB"/>
<rect x="121.48" y="254.05" width="12.6" height="12.6" fill="#FFE9E9"/>
<rect x="136.21" y="254.05" width="12.6" height="12.6" fill="#FFDEDE"/>
<rect x="150.94" y="254.05" width="12.6" height="12.6" fill="#FFC8C8"/>
<rect x="165.67" y="254.05" width="12.6" height="12.6" fill="#FFF0F0"/>
<rect x="180.40" y="254.05" width="12.6" height="12.6" fill="#FFE5E5"/>
<rect x="195.13" y="254.05" width="12.6" height="12.6" fill="#FFEBEB"/>
<rect x="209.86" y="254.05" width="12.6" height="12.6" fill="#FFDEDE"/>
<rect x="224.59" y="254.05" width="12.6" height="12.6" fill="#FFF0F0"/>
<rect x="239.32" y="254.05" width="12.6" height="12.6" fill="#FFBDBD"/>
<rect x="254.05" y="254.05" width="12.6" height="12.6" fill="#FF0D0D"/>
<rect x="268.78" y="254.05" width="12.6" height="12.6" fill="#FFBDBD"/>
<rect x="283.51" y="254.05" width="12.6" height="12.6" fill="#FFEBEB"/>
<rect x="298.24" y="254.05" width="12.6" height="12.6" fill="#FFC2C2"/>
<rect x="312.97" y="254.05" width="12.6" height="12.6" fill="#FFDEDE"/>
<rect x="327.70" y="254.05" width="12.6" height="12.6" fill="#FFEBEB"/>
<rect x="342.43" y="254.05" width="12.6" height="12.6" fill="#FFDEDE"/>
<rect x="357.16" y="254.05" width="12.6" height="12.6" fill="#FFD3D3"/>
<rect x="371.89" y="254.05" width="12.6" height="12.6" fill="#FFF0F0"/>
<rect x="386.62" y="254.05" width="12.6" height="12.6" fill="#FFF5F5"/>
<rect x="401.35" y="254.05" width="12.6" height="12.6" fill="#FFF5F5"/>
<rect x="416.08" y="254.05" width="12.6" height="12.6" fill="#FFF0F0"/>
<rect x="33.10" y="268.78" width="12.6" height="12.6" fill="#FFE9E9"/>
<rect x="47.83" y="268.78" width="12.6" height="12.6" fill="#FFE9E9"/>
<rect x="62.56" y="268.78" width="12.6" height="12.6" fill="#FFEBEB"/>
<rect x="77.29" y="268.78" width="12.6" height="12.6" fill="#FFEBEB"/>
<rect x="92.02" y="268.78" width="12.6" height="12.6" fill="#FFEBEB"/>
<rect x="106.75" y="268.78" width="12.6" height="12.6" fill="#FFE9E9"/>
<rect x="121.48" y="268.78" width="12.6" height="12.6" fill="#FFEBEB"/>
<rect x="136.21" y="268.78" width="12.6" height="12.6" fill="#FFEBEB"/>
<rect x="150.94" y="268.78" width="12.6" height="12.6" fill="#FFE9E9"/>
<rect x="165.67" y="268.78" width="12.6" height="12.6" fill="#FFEBEB"/>
<rect x="180.40" y="268.78" width="12.6" height="12.6" fill="#FFE5E5"/>
<rect x="195.13" y="268.78" width="12.6" height="12.6" fill="#FFEBEB"/>
<rect x="209.86" y="268.78" width="12.6" height="12.6" fill="#FFEBEB"/>
<rect x="224.59" y="268.78" width="12.6" height="12.6" fill="#FFF0F0"/>
<rect x="239.32" y="268.78" width="12.6" height="12.6" fill="#FFEBEB"/>
<rect x="254.05" y="268.78" width="12.6" height="12.6" fill="#FFE9E9"/>
<rect x="268.78" y="268.78" width="12.6" height="12.6" fill="#FF0D0D"/>
<rect x="283.51" y="268.78" width="12.6" height="12.6" fill="#FFB2B2"/>
<rect x="298.24" y="268.78" width="12.6" height="12.6" fill="#FFC8C8"/>
<rect x="312.97" y="268.78" width="12.6" height="12.6" fill="#FFBDBD"/>
<rect x="327.70" y="268.78" width="12.6" height="12.6" fill="#FFEBEB"/>
<rect x="342.43" y="268.78" width="12.6" height="12.6" fill="#FFD3D3"/>
<rect x="357.16" y="268.78" width="12.6" height="12.6" fill="#FFE5E5"/>
<rect x="371.89" y="268.78" width="12.6" height="12.6" fill="#FFEBEB"/>
<rect x="386.62" y="268.78" width="12.6" height="12.6" fill="#FFEBEB"/>
<rect x="401.35" y="268.78" width="12.6" height="12.6" fill="#FFEBEB"/>
<rect x="416.08" y="268.78" width="12.6" height="12.6" fill="#FFEBEB"/>
<rect x="33.10" y="283.51" width="12.6" height="12.6" fill="#FFEBEB"/>
<rect x="47.83" y="283.51" width="12.6" height="12.6" fill="#FFEBEB"/>
<rect x="62.56" y="283.51" width="12.6" height="12.6" fill="#FFEBEB"/>
<rect x="77.29" y="283.51" width="12.6" height="12.6" fill="#FFF0F0"/>
<rect x="92.02" y="283.51" width="12.6" height="12.6" fill="#FFF0F0"/>
<rect x="106.75" y="283.51" width="12.6" height="12.6" fill="#FFEBEB"/>
<rect x="121.48" y="283.51" width="12.6" height="12.6" fill="#FFEBEB"/>
<rect x="136.21" y="283.51" width="12.6" height="12.6" fill="#FFEBEB"/>
<rect x="150.94" y="283.51" width="12.6" height="12.6" fill="#FFE9E9"/>
<rect x="165.67" y="283.51" width="12.6" height="12.6" fill="#FFF0F0"/>
<rect x="180.40" y="283.51" width="12.6" height="12.6" fill="#FFEBEB"/>
<rect x="195.13" y="283.51" width="12.6" height="12.6" fill="#FFF0F0"/>
<rect x="209.86" y="283.51" width="12.6" height="12.6" fill="#FFF0F0"/>
<rect x="224.59" y="283.51" width="12.6" height="12.6" fill="#FFF0F0"/>
<rect x="239.32" y="283.51" width="12.6" height="12.6" fill="#FFEBEB"/>
<rect x="254.05" y="283.51" width="12.6" height="12.6" fill="#FFEBEB"/>
<rect x="268.78" y="283.51" width="12.6" height="12.6" fill="#FFBDBD"/>
<rect x="283.51" y="283.51" width="12.6" height="12.6" fill="#FF0000"/>
<rect x="298.24" y="283.51" width="12.6" height="12.6" fill="#FFDEDE"/>
<rect x="312.97" y="283.51" width="12.6" height="12.6" fill="#FFB2B2"/>
<rect x="327.70" y="283.51" width="12.6" height="12.6" fill="#FFEBEB"/>
<rect x="342.43" y="283.51" width="12.6" height="12.6" fill="#FFDEDE"/>
<rect x="357.16" y="283.51" width="12.6" height="12.6" fill="#FFE9E9"/>
<rect x="371.89" y="283.51" width="12.6" height="12.6" fill="#FFE9E9"/>
<rect x="386.62" y="283.51" width="12.6" height="12.6" fill="#FFEBEB"/>
<rect x="401.35" y="283.51" width="12.6" height="12.6" fill="#FFEBEB"/>
<rect x="416.08" y="283.51" width="12.6" height="12.6" fill="#FFEBEB"/>
<rect x="33.10" y="298.24" width="12.6" height="12.6" fill="#FFE5E5"/>
<rect x="47.83" y="298.24" width="12.6" height="12.6" fill="#FFE5E5"/>
<rect x="62.56" y="298.24" width="12.6" height="12.6" fill="#FFE5E5"/>
<rect x="77.29" y="298.24" width="12.6" height="12.6" fill="#FFE9E9"/>
<rect x="92.02" y="298.24" width="12.6" height="12.6" fill="#FFE9E9"/>
<rect x="106.75" y="298.24" width="12.6" height="12.6" fill="#FFE9E9"/>
<rect x="121.48" y="298.24" width="12.6" height="12.6" fill="#FFE5E5"/>
<rect x="136.21" y="298.24" width="12.6" height="12.6" fill="#FFE5E5"/>
<rect x="150.94" y="298.24" width="12.6" height="12.6" fill="#FFE9E9"/>
<rect x="165.67" y="298.24" width="12.6" height="12.6" fill="#FFE9E9"/>
<rect x="180.40" y="298.24" width="12.6" height="12.6" fill="#FFE9E9"/>
<rect x="195.13" y="298.24" width="12.6" height="12.6" fill="#FFEBEB"/>
<rect x="209.86" y="298.24" width="12.6" height="12.6" fill="#FFEBEB"/>
<rect x="224.59" y="298.24" width="12.6" height="12.6" fill="#FFEBEB"/>
<rect x="239.32" y="298.24" width="12.6" height="12.6" fill="#FFEBEB"/>
<rect x="254.05" y="298.24" width="12.6" height="12.6" fill="#FFEBEB"/>
<rect x="268.78" y="298.24" width="12.6" height="12.6" fill="#FFDEDE"/>
<rect x="283.51" y="298.24" width="12.6" height="12.6" fill="#FFE5E5"/>
<rect x="298.24" y="298.24" width="12.6" height="12.6" fill="#FF0D0D"/>
<rect x="312.97" y="298.24" width="12.6" height="12.6" fill="#FFDEDE"/>
<rect x="327.70" y="298.24" width="12.6" height="12.6" fill="#FFEBEB"/>
<rect x="342.43" y="298.24" width="12.6" height="12.6" fill="#FFE9E9"/>
<rect x="357.16" y="298.24" width="12.6" height="12.6" fill="#FFE5E5"/>
<rect x="371.89" y="298.24" width="12.6" height="12.6" fill="#FFE5E5"/>
<rect x="386.62" y="298.24" width="12.6" height="12.6" fill="#FFEBEB"/>
<rect x="401.35" y="298.24" width="12.6" height="12.6" fill="#FFEBEB"/>
<rect x="416.08" y="298.24" width="12.6" height="12.6" fill="#FFE9E9"/>
<rect x="33.10" y="312.97" width="12.6" height="12.6" fill="#FFE9E9"/>
<rect x="47.83" y="312.97" width="12.6" height="12.6" fill="#FFE5E5"/>
<rect x="62.56" y="312.97" width="12.6" height="12.6" fill="#FFE9E9"/>
<rect x="77.29" y="312.97" width="12.6" height="12.6" fill="#FFE9E9"/>
<rect x="92.02" y="312.97" width="12.6" height="12.6" fill="#FFE9E9"/>
<rect x="106.75" y="312.97" width="12.6" height="12.6" fill="#FFE9E9"/>
<rect x="121.48" y="312.97" width="12.6" height="12.6" fill="#FFE9E9"/>
<rect x="136.21" y="312.97" width="12.6" height="12.6" fill="#FFE9E9"/>
<rect x="150.94" y="312.97" width="12.6" height="12.6" fill="#FFE5E5"/>
<rect x="165.67" y="312.97" width="12.6" height="12.6" fill="#FFEBEB"/>
<rect x="180.40" y="312.97" width="12.6" height="12.6" fill="#FFE9E9"/>
<rect x="195.13" y="312.97" width="12.6" height="12.6" fill="#FFEBEB"/>
<rect x="209.86" y="312.97" width="12.6" height="12.6" fill="#FFE9E9"/>
<rect x="224.59" y="312.97" width="12.6" height="12.6" fill="#FFEBEB"/>
<rect x="239.32" y="312.97" width="12.6" height="12.6" fill="#FFE9E9"/>
<rect x="254.05" y="312.97" width="12.6" height="12.6" fill="#FFE9E9"/>
<rect x="268.78" y="312.97" width="12.6" height="12.6" fill="#FFC8C8"/>
<rect x="283.51" y="312.97" width="12.6" height="12.6" fill="#FFB2B2"/>
<rect x="298.24" y="312.97" width="12.6" height="12.6" fill="#FFC8C8"/>
<rect x="312.97" y="312.97" width="12.6" height="12.6" fill="#FF1919"/>
<rect x="327.70" y="312.97" width="12.6" height="12.6" fill="#FFE9E9"/>
<rect x="342.43" y="312.97" width="12.6" height="12.6" fill="#FFD7D7"/>
<rect x="357.16" y="312.97" width="12.6" height="12.6" fill="#FFE9E9"/>
<rect x="371.89" y="312.97" width="12.6" height="12.6" fill="#FFE9E9"/>
<rect x="386.62" y="312.97" width="12.6" height="12.6" fill="#FFEBEB"/>
<rect x="401.35" y="312.97" width="12.6" height="12.6" fill="#FFEBEB"/>
<rect x="416.08" y="312.97" width="12.6" height="12.6" fill="#FFEBEB"/>
<rect x="33.10" y="327.70" width="12.6" height="12.6" fill="#FFF7F7"/>
<rect x="47.83" y="327.70" width="12.6" height="12.6" fill="#FFF0F0"/>
<rect x="62.56" y="327.70" width="12.6" height="12.6" fill="#FFF5F5"/>
<rect x="77.29" y="327.70" width="12.6" height="12.6" fill="#FFF7F7"/>
<rect x="92.02" y="327.70" width="12.6" height="12.6" fill="#FFF5F5"/>
<rect x="106.75" y="327.70" width="12.6" height="12.6" fill="#FFDEDE"/>
<rect x="121.48" y="327.70" width="12.6" height="12.6" fill="#FFEBEB"/>
<rect x="136.21" y="327.70" width="12.6" height="12.6" fill="#FFD3D3"/>
<rect x="150.94" y="327.70" width="12.6" height="12.6" fill="#FFE5E5"/>
<rect x="165.67" y="327.70" width="12.6" height="12.6" fill="#FFFAFA"/>
<rect x="180.40" y="327.70" width="12.6" height="12.6" fill="#FFE9E9"/>
<rect x="195.13" y="327.70" width="12.6" height="12.6" fill="#FFFFFF"/>
<rect x="209.86" y="327.70" width="12.6" height="12.6" fill="#FFDEDE"/>
<rect x="224.59" y="327.70" width="12.6" height="12.6" fill="#FFF0F0"/>
<rect x="239.32" y="327.70" width="12.6" height="12.6" fill="#FFE9E9"/>
<rect x="254.05" y="327.70" width="12.6" height="12.6" fill="#FFDEDE"/>
<rect x="268.78" y="327.70" width="12.6" height="12.6" fill="#FFCFCF"/>
<rect x="283.51" y="327.70" width="12.6" height="12.6" fill="#FFD3D3"/>
<rect x="298.24" y="327.70" width="12.6" height="12.6" fill="#FFC8C8"/>
<rect x="312.97" y="327.70" width="12.6" height="12.6" fill="#FFD7D7"/>
<rect x="327.70" y="327.70" width="12.6" height="12.6" fill="#FF1919"/>
<rect x="342.43" y="327.70" width="12.6" height="12.6" fill="#FFA7A7"/>
<rect x="357.16" y="327.70" width="12.6" height="12.6" fill="#FFDEDE"/>
<rect x="371.89" y="327.70" width="12.6" height="12.6" fill="#FFC8C8"/>
<rect x="386.62" y="327.70" width="12.6" height="12.6" fill="#FFEBEB"/>
<rect x="401.35" y="327.70" width="12.6" height="12.6" fill="#FFF5F5"/>
<rect x="416.08" y="327.70" width="12.6" height="12.6" fill="#FFDEDE"/>
<rect x="33.10" y="342.43" width="12.6" height="12.6" fill="#FFE9E9"/>
<rect x="47.83" y="342.43" width="12.6" height="12.6" fill="#FFE9E9"/>
<rect x="62.56" y="342.43" width="12.6" height="12.6" fill="#FFE9E9"/>
<rect x="77.29" y="342.43" width="12.6" height="12.6" fill="#FFE9E9"/>
<rect x="92.02" y="342.43" width="12.6" height="12.6" fill="#FFF0F0"/>
<rect x="106.75" y="342.43" width="12.6" height="12.6" fill="#FFCFCF"/>
<rect x="121.48" y="342.43" width="12.6" height="12.6" fill="#FFE9E9"/>
<rect x="136.21" y="342.43" width="12.6" height="12.6" fill="#FFDEDE"/>
<rect x="150.94" y="342.43" width="12.6" height="12.6" fill="#FFE5E5"/>
<rect x="165.67" y="342.43" width="12.6" height="12.6" fill="#FFE9E9"/>
<rect x="180.40" y="342.43" width="12.6" height="12.6" fill="#FFDEDE"/>
<rect x="195.13" y="342.43" width="12.6" height="12.6" fill="#FFE5E5"/>
<rect x="209.86" y="342.43" width="12.6" height="12.6" fill="#FFCFCF"/>
<rect x="224.59" y="342.43" width="12.6" height="12.6" fill="#FFE9E9"/>
<rect x="239.32" y="342.43" width="12.6" height="12.6" fill="#FFE5E5"/>
<rect x="254.05" y="342.43" width="12.6" height="12.6" fill="#FFE5E5"/>
<rect x="268.78" y="342.43" width="12.6" height="12.6" fill="#FFD3D3"/>
<rect x="283.51" y="342.43" width="12.6" height="12.6" fill="#FFD3D3"/>
<rect x="298.24" y="342.43" width="12.6" height="12.6" fill="#FFC8C8"/>
<rect x="312.97" y="342.43" width="12.6" height="12.6" fill="#FFDEDE"/>
<rect x="327.70" y="342.43" width="12.6" height="12.6" fill="#FFE9E9"/>
<rect x="342.43" y="342.43" width="12.6" height="12.6" fill="#FF0000"/>
<rect x="357.16" y="342.43" width="12.6" height="12.6" fill="#FFDEDE"/>
<rect x="371.89" y="342.43" width="12.6" height="12.6" fill="#FFE9E9"/>
<rect x="386.62" y="342.43" width="12.6" height="12.6" fill="#FFEBEB"/>
<rect x="401.35" y="342.43" width="12.6" height="12.6" fill="#FFF0F0"/>
<rect x="416.08" y="342.43" width="12.6" height="12.6" fill="#FFE9E9"/>
<rect x="33.10" y="357.16" width="12.6" height="12.6" fill="#FFE9E9"/>
<rect x="47.83" y="357.16" width="12.6" height="12.6" fill="#FFE9E9"/>
<rect x="62.56" y="357.16" width="12.6" height="12.6" fill="#FFE9E9"/>
<rect x="77.29" y="357.16" width="12.6" height="12.6" fill="#FFE9E9"/>
<rect x="92.02" y="357.16" width="12.6" height="12.6" fill="#FFEBEB"/>
<rect x="106.75" y="357.16" width="12.6" height="12.6" fill="#FFDEDE"/>
<rect x="121.48" y="357.16" width="12.6" height="12.6" fill="#FFE9E9"/>
<rect x="136.21" y="357.16" width="12.6" height="12.6" fill="#FFE9E9"/>
<rect x="150.94" y="357.16" width="12.6" height="12.6" fill="#FFE5E5"/>
<rect x="165.67" y="357.16" width="12.6" height="12.6" fill="#FFE5E5"/>
<rect x="180.40" y="357.16" width="12.6" height="12.6" fill="#FFD7D7"/>
<rect x="195.13" y="357.16" width="12.6" height="12.6" fill="#FFE5E5"/>
<rect x="209.86" y="357.16" width="12.6" height="12.6" fill="#FFD3D3"/>
<rect x="224.59" y="357.16" width="12.6" height="12.6" fill="#FFEBEB"/>
<rect x="239.32" y="357.16" width="12.6" height="12.6" fill="#FFE5E5"/>
<rect x="254.05" y="357.16" width="12.6" height="12.6" fill="#FFDEDE"/>
<rect x="268.78" y="357.16" width="12.6" height="12.6" fill="#FFDEDE"/>
<rect x="283.51" y="357.16" width="12.6" height="12.6" fill="#FFE5E5"/>
<rect x="298.24" y="357.16" width="12.6" height="12.6" fill="#FFC8C8"/>
<rect x="312.97" y="357.16" width="12.6" height="12.6" fill="#FFE5E5"/>
<rect x="327.70" y="357.16" width="12.6" height="12.6" fill="#FFEBEB"/>
<rect x="342.43" y="357.16" width="12.6" height="12.6" fill="#FFC8C8"/>
<rect x="357.16" y="357.16" width="12.6" height="12.6" fill="#FF1919"/>
<rect x="371.89" y="357.16" width="12.6" height="12.6" fill="#FFDEDE"/>
<rect x="386.62" y="357.16" width="12.6" height="12.6" fill="#FFEBEB"/>
<rect x="401.35" y="357.16" width="12.6" height="12.6" fill="#FFEBEB"/>
<rect x="416.08" y="357.16" width="12.6" height="12.6" fill="#FFE5E5"/>
<rect x="33.10" y="371.89" width="12.6" height="12.6" fill="#FFE9E9"/>
<rect x="47.83" y="371.89" width="12.6" height="12.6" fill="#FFE9E9"/>
<rect x="62.56" y="371.89" width="12.6" height="12.6" fill="#FFEBEB"/>
<rect x="77.29" y="371.89" width="12.6" height="12.6" fill="#FFE9E9"/>
<rect x="92.02" y="371.89" width="12.6" height="12.6" fill="#FFE9E9"/>
<rect x="106.75" y="371.89" width="12.6" height="12.6" fill="#FFD7D7"/>
<rect x="121.48" y="371.89" width="12.6" height="12.6" fill="#FFE9E9"/>
<rect x="136.21" y="371.89" width="12.6" height="12.6" fill="#FFEBEB"/>
<rect x="150.94" y="371.89" width="12.6" height="12.6" fill="#FFE9E9"/>
<rect x="165.67" y="371.89" width="12.6" height="12.6" fill="#FFE9E9"/>
<rect x="180.40" y="371.89" width="12.6" height="12.6" fill="#FFE9E9"/>
<rect x="195.13" y="371.89" width="12.6" height="12.6" fill="#FFE9E9"/>
<rect x="209.86" y="371.89" width="12.6" height="12.6" fill="#FFE5E5"/>
<rect x="224.59" y="371.89" width="12.6" height="12.6" fill="#FFE9E9"/>
<rect x="239.32" y="371.89" width="12.6" height="12.6" fill="#FFE9E9"/>
<rect x="254.05" y="371.89" width="12.6" height="12.6" fill="#FFE9E9"/>
<rect x="268.78" y="371.89" width="12.6" height="12.6" fill="#FFE5E5"/>
<rect x="283.51" y="371.89" width="12.6" height="12.6" fill="#FFE5E5"/>
<rect x="298.24" y="371.89" width="12.6" height="12.6" fill="#FFBDBD"/>
<rect x="312.97" y="371.89" width="12.6" height="12.6" fill="#FFE9E9"/>
<rect x="327.70" y="371.89" width="12.6" height="12.6" fill="#FFE5E5"/>
<rect x="342.43" y="371.89" width="12.6" height="12.6" fill="#FFDEDE"/>
<rect x="357.16" y="371.89" width="12.6" height="12.6" fill="#FFE5E5"/>
<rect x="371.89" y="371.89" width="12.6" height="12.6" fill="#FF0000"/>
<rect x="386.62" y="371.89" width="12.6" height="12.6" fill="#FFE5E5"/>
<rect x="401.35" y="371.89" width="12.6" height="12.6" fill="#FFE9E9"/>
<rect x="416.08" y="371.89" width="12.6" height="12.6" fill="#FFC8C8"/>
<rect x="33.10" y="386.62" width="12.6" height="12.6" fill="#FFFCFC"/>
<rect x="47.83" y="386.62" width="12.6" height="12.6" fill="#FFE5E5"/>
<rect x="62.56" y="386.62" width="12.6" height="12.6" fill="#FFF5F5"/>
<rect x="77.29" y="386.62" width="12.6" height="12.6" fill="#FFF5F5"/>
<rect x="92.02" y="386.62" width="12.6" height="12.6" fill="#FFF5F5"/>
<rect x="106.75" y="386.62" width="12.6" height="12.6" fill="#FFA7A7"/>
<rect x="121.48" y="386.62" width="12.6" height="12.6" fill="#FFF0F0"/>
<rect x="136.21" y="386.62" width="12.6" height="12.6" fill="#FFDEDE"/>
<rect x="150.94" y="386.62" width="12.6" height="12.6" fill="#FFDEDE"/>
<rect x="165.67" y="386.62" width="12.6" height="12.6" fill="#FFFAFA"/>
<rect x="180.40" y="386.62" width="12.6" height="12.6" fill="#FFEBEB"/>
<rect x="195.13" y="386.62" width="12.6" height="12.6" fill="#FFF5F5"/>
<rect x="209.86" y="386.62" width="12.6" height="12.6" fill="#FFD3D3"/>
<rect x="224.59" y="386.62" width="12.6" height="12.6" fill="#FFF0F0"/>
<rect x="239.32" y="386.62" width="12.6" height="12.6" fill="#FFEBEB"/>
<rect x="254.05" y="386.62" width="12.6" height="12.6" fill="#FFF0F0"/>
<rect x="268.78" y="386.62" width="12.6" height="12.6" fill="#FFF0F0"/>
<rect x="283.51" y="386.62" width="12.6" height="12.6" fill="#FFC8C8"/>
<rect x="298.24" y="386.62" width="12.6" height="12.6" fill="#FFFAFA"/>
<rect x="312.97" y="386.62" width="12.6" height="12.6" fill="#FFE9E9"/>
<rect x="327.70" y="386.62" width="12.6" height="12.6" fill="#FFEBEB"/>
<rect x="342.43" y="386.62" width="12.6" height="12.6" fill="#FFDEDE"/>
<rect x="357.16" y="386.62" width="12.6" height="12.6" fill="#FFE9E9"/>
<rect x="371.89" y="386.62" width="12.6" height="12.6" fill="#FF9C9C"/>
<rect x="386.62" y="386.62" width="12.6" height="12.6" fill="#FF3333"/>
<rect x="401.35" y="386.62" width="12.6" height="12.6" fill="#FFA7A7"/>
<rect x="416.08" y="386.62" width="12.6" height="12.6" fill="#FFA7A7"/>
<rect x="33.10" y="401.35" width="12.6" height="12.6" fill="#FFF7F7"/>
<rect x="47.83" y="401.35" width="12.6" height="12.6" fill="#FFF5F5"/>
<rect x="62.56" y="401.35" width="12.6" height="12.6" fill="#FFF5F5"/>
<rect x="77.29" y="401.35" width="12.6" height="12.6" fill="#FFF5F5"/>
<rect x="92.02" y="401.35" width="12.6" height="12.6" fill="#FFF5F5"/>
<rect x="106.75" y="401.35" width="12.6" height="12.6" fill="#FFB2B2"/>
<rect x="121.48" y="401.35" width="12.6" height="12.6" fill="#FFF0F0"/>
<rect x="136.21" y="401.35" width="12.6" height="12.6" fill="#FFE9E9"/>
<rect x="150.94" y="401.35" width="12.6" height="12.6" fill="#FFDEDE"/>
<rect x="165.67" y="401.35" width="12.6" height="12.6" fill="#FFEBEB"/>
<rect x="180.40" y="401.35" width="12.6" height="12.6" fill="#FFE5E5"/>
<rect x="195.13" y="401.35" width="12.6" height="12.6" fill="#FFDEDE"/>
<rect x="209.86" y="401.35" width="12.6" height="12.6" fill="#FFF0F0"/>
<rect x="224.59" y="401.35" width="12.6" height="12.6" fill="#FFF0F0"/>
<rect x="239.32" y="401.35" width="12.6" height="12.6" fill="#FFEBEB"/>
<rect x="254.05" y="401.35" width="12.6" height="12.6" fill="#FFE9E9"/>
<rect x="268.78" y="401.35" width="12.6" height="12.6" fill="#FFF5F5"/>
<rect x="283.51" y="401.35" width="12.6" height="12.6" fill="#FFE5E5"/>
<rect x="298.24" y="401.35" width="12.6" height="12.6" fill="#FFF7F7"/>
<rect x="312.97" y="401.35" width="12.6" height="12.6" fill="#FFCFCF"/>
<rect x="327.70" y="401.35" width="12.6" height="12.6" fill="#FFF5F5"/>
<rect x="342.43" y="401.35" width="12.6" height="12.6" fill="#FFE5E5"/>
<rect x="357.16" y="401.35" width="12.6" height="12.6" fill="#FFE9E9"/>
<rect x="371.89" y="401.35" width="12.6" height="12.6" fill="#FFA7A7"/>
<rect x="386.62" y="401.35" width="12.6" height="12.6" fill="#FF9C9C"/>
<rect x="401.35" y="401.35" width="12.6" height="12.6" fill="#FF4040"/>
<rect x="416.08" y="401.35" width="12.6" height="12.6" fill="#FFA7A7"/>
<rect x="33.10" y="416.08" width="12.6" height="12.6" fill="#FFEBEB"/>
<rect x="47.83" y="416.08" width="12.6" height="12.6" fill="#FFE9E9"/>
<rect x="62.56" y="416.08" width="12.6" height="12.6" fill="#FFEBEB"/>
<rect x="77.29" y="416.08" width="12.6" height="12.6" fill="#FFF0F0"/>
<rect x="92.02" y="416.08" width="12.6" height="12.6" fill="#FFEBEB"/>
<rect x="106.75" y="416.08" width="12.6" height="12.6" fill="#FFE5E5"/>
<rect x="121.48" y="416.08" width="12.6" height="12.6" fill="#FFEBEB"/>
<rect x="136.21" y="416.08" width="12.6" height="12.6" fill="#FFEBEB"/>
<rect x="150.94" y="416.08" width="12.6" height="12.6" fill="#FFEBEB"/>
<rect x="165.67" y="416.08" width="12.6" height="12.6" fill="#FFEBEB"/>
<rect x="180.40" y="416.08" width="12.6" height="12.6" fill="#FFE9E9"/>
<rect x="195.13" y="416.08" width="12.6" height="12.6" fill="#FFE9E9"/>
<rect x="209.86" y="416.08" width="12.6" height="12.6" fill="#FFBDBD"/>
<rect x="224.59" y="416.08" width="12.6" height="12.6" fill="#FFEBEB"/>
<rect x="239.32" y="416.08" width="12.6" height="12.6" fill="#FFE9E9"/>
<rect x="254.05" y="416.08" width="12.6" height="12.6" fill="#FFE9E9"/>
<rect x="268.78" y="416.08" width="12.6" height="12.6" fill="#FFEBEB"/>
<rect x="283.51" y="416.08" width="12.6" height="12.6" fill="#FFE9E9"/>
<rect x="298.24" y="416.08" width="12.6" height="12.6" fill="#FFE9E9"/>
<rect x="312.97" y="416.08" width="12.6" height="12.6" fill="#FFE9E9"/>
<rect x="327.70" y="416.08" width="12.6" height="12.6" fill="#FFE9E9"/>
<rect x="342.43" y="416.08" width="12.6" height="12.6" fill="#FFC8C8"/>
<rect x="357.16" y="416.08" width="12.6" height="12.6" fill="#FFDEDE"/>
<rect x="371.89" y="416.08" width="12.6" height="12.6" fill="#FFB2B2"/>
<rect x="386.62" y="416.08" width="12.6" height="12.6" fill="#FFDEDE"/>
<rect x="401.35" y="416.08" width="12.6" height="12.6" fill="#FFE5E5"/>
<rect x="416.08" y="416.08" width="12.6" height="12.6" fill="#FF0D0D"/>
</svg>
<svg width="685" height="674" viewBox="0 0 685 674" style="position:absolute;left:0;top:0">
<g font-family="Liberation Sans, sans-serif" class="t" font-size="19.75" fill="#000">
<text x="443.4" y="46.60">apple</text>
<text x="443.4" y="61.33">banana</text>
<text x="443.4" y="76.06">kiwi</text>
<text x="443.4" y="90.79">orange</text>
<text x="443.4" y="105.52">peach</text>
<text x="443.4" y="120.25">sesame</text>
<text x="443.4" y="134.98">soba</text>
<text x="443.4" y="149.71">soybean</text>
<text x="443.4" y="164.44">wheat</text>
<text x="443.4" y="179.17">cashew nuts</text>
<text x="443.4" y="193.90">peanut</text>
<text x="443.4" y="208.63">walnut</text>
<text x="443.4" y="223.36">matsutake</text>
<text x="443.4" y="238.09">yam</text>
<text x="443.4" y="252.82">egg</text>
<text x="443.4" y="267.55">milk</text>
<text x="443.4" y="282.28">beef</text>
<text x="443.4" y="297.01">chicken</text>
<text x="443.4" y="311.74">gelatin</text>
<text x="443.4" y="326.47">pork</text>
<text x="443.4" y="341.20">mackerel</text>
<text x="443.4" y="355.93">salmon</text>
<text x="443.4" y="370.66">salmon roe</text>
<text x="443.4" y="385.39">abalone</text>
<text x="443.4" y="400.12">crab</text>
<text x="443.4" y="414.85">shrimp</text>
<text x="443.4" y="429.58">squid</text>
<text transform="translate(46.80,443.2) rotate(-90)" text-anchor="end">apple</text>
<text transform="translate(61.53,443.2) rotate(-90)" text-anchor="end">banana</text>
<text transform="translate(76.26,443.2) rotate(-90)" text-anchor="end">kiwi</text>
<text transform="translate(90.99,443.2) rotate(-90)" text-anchor="end">orange</text>
<text transform="translate(105.72,443.2) rotate(-90)" text-anchor="end">peach</text>
<text transform="translate(120.45,443.2) rotate(-90)" text-anchor="end">sesame</text>
<text transform="translate(135.18,443.2) rotate(-90)" text-anchor="end">soba</text>
<text transform="translate(149.91,443.2) rotate(-90)" text-anchor="end">soybean</text>
<text transform="translate(164.64,443.2) rotate(-90)" text-anchor="end">wheat</text>
<text transform="translate(179.37,443.2) rotate(-90)" text-anchor="end">cashew nuts</text>
<text transform="translate(194.10,443.2) rotate(-90)" text-anchor="end">peanut</text>
<text transform="translate(208.83,443.2) rotate(-90)" text-anchor="end">walnut</text>
<text transform="translate(223.56,443.2) rotate(-90)" text-anchor="end">matsutake</text>
<text transform="translate(238.29,443.2) rotate(-90)" text-anchor="end">yam</text>
<text transform="translate(253.02,443.2) rotate(-90)" text-anchor="end">egg</text>
<text transform="translate(267.75,443.2) rotate(-90)" text-anchor="end">milk</text>
<text transform="translate(282.48,443.2) rotate(-90)" text-anchor="end">beef</text>
<text transform="translate(297.21,443.2) rotate(-90)" text-anchor="end">chicken</text>
<text transform="translate(311.94,443.2) rotate(-90)" text-anchor="end">gelatin</text>
<text transform="translate(326.67,443.2) rotate(-90)" text-anchor="end">pork</text>
<text transform="translate(341.40,443.2) rotate(-90)" text-anchor="end">mackerel</text>
<text transform="translate(356.13,443.2) rotate(-90)" text-anchor="end">salmon</text>
<text transform="translate(370.86,443.2) rotate(-90)" text-anchor="end">salmon roe</text>
<text transform="translate(385.59,443.2) rotate(-90)" text-anchor="end">abalone</text>
<text transform="translate(400.32,443.2) rotate(-90)" text-anchor="end">crab</text>
<text transform="translate(415.05,443.2) rotate(-90)" text-anchor="end">shrimp</text>
<text transform="translate(429.78,443.2) rotate(-90)" text-anchor="end">squid</text>
</g>
<defs><linearGradient id="g" x1="0" x2="1" y1="0" y2="0"><stop offset="0" stop-color="#FFFFFF"/><stop offset="1" stop-color="#FF0000"/></linearGradient></defs>
<rect x="133" y="657.2" width="230" height="16.799999999999955" fill="url(#g)"/>
<g font-family="Liberation Sans, sans-serif" class="t" font-size="16.9" fill="#000">
<text x="89.2" y="612.9">#allergic to foods X&amp;Y/#allergic to food X</text>
<text x="133.10" y="640.2" text-anchor="middle">0.00</text>
<line x1="133.10" x2="133.10" y1="650" y2="657.2" stroke="#222" stroke-width="1.15"/>
<text x="178.60" y="640.2" text-anchor="middle">0.20</text>
<line x1="178.60" x2="178.60" y1="650" y2="657.2" stroke="#222" stroke-width="1.15"/>
<text x="224.10" y="640.2" text-anchor="middle">0.40</text>
<line x1="224.10" x2="224.10" y1="650" y2="657.2" stroke="#222" stroke-width="1.15"/>
<text x="269.60" y="640.2" text-anchor="middle">0.60</text>
<line x1="269.60" x2="269.60" y1="650" y2="657.2" stroke="#222" stroke-width="1.15"/>
<text x="315.10" y="640.2" text-anchor="middle">0.80</text>
<line x1="315.10" x2="315.10" y1="650" y2="657.2" stroke="#222" stroke-width="1.15"/>
<text x="360.60" y="640.2" text-anchor="middle">1.00</text>
<line x1="360.60" x2="360.60" y1="650" y2="657.2" stroke="#222" stroke-width="1.15"/>
</g>
<g font-family="Liberation Sans, sans-serif" class="t" font-size="16.8" fill="#000">
<rect x="460.5" y="520.50" width="42.60" height="12.3" rx="6.15" fill="#FFA500"/>
<text x="512.2" y="532.65">fruit</text>
<rect x="460.5" y="540.62" width="42.60" height="12.3" rx="6.15" fill="#8B2525"/>
<text x="512.2" y="552.77">legumes/grains</text>
<rect x="460.5" y="560.74" width="42.60" height="12.3" rx="6.15" fill="#EE3B3B"/>
<text x="512.2" y="572.89">nuts</text>
<rect x="460.5" y="580.86" width="42.60" height="12.3" rx="6.15" fill="#00FF00"/>
<text x="512.2" y="593.01">vegetables/mushrooms</text>
<rect x="460.5" y="600.98" width="42.60" height="12.3" rx="6.15" fill="#FFFF00"/>
<text x="512.2" y="613.13">eggs/dairy</text>
<rect x="460.5" y="621.10" width="42.60" height="12.3" rx="6.15" fill="#FF0000"/>
<text x="512.2" y="633.25">meat/poultry</text>
<rect x="460.5" y="641.22" width="42.60" height="12.3" rx="6.15" fill="#0000FF"/>
<text x="512.2" y="653.37">fish</text>
<rect x="460.5" y="661.34" width="42.60" height="12.3" rx="6.15" fill="#000080"/>
<text x="512.2" y="673.49">shellfish</text>
</g></svg>
</div></body></html>
